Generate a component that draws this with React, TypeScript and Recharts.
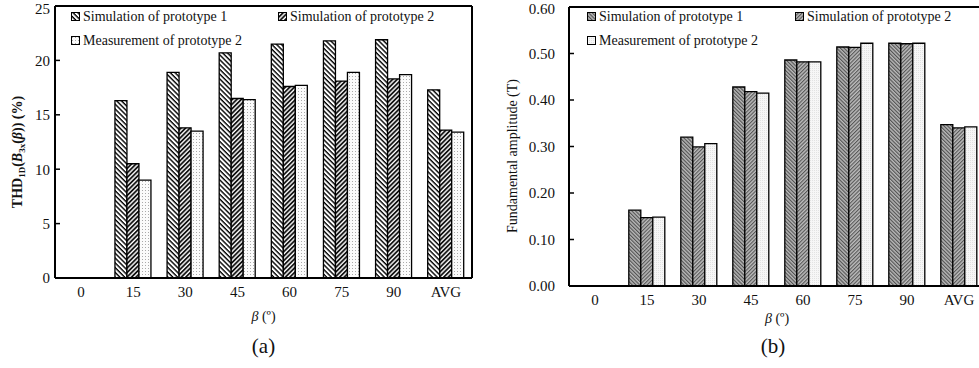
import React from "react";
import { BarChart, Bar, XAxis, YAxis } from "recharts";

// THD and fundamental amplitude vs. rotor angle, two prototypes side by side

const categories = ["0", "15", "30", "45", "60", "75", "90", "AVG"];

const thdSim1 = [0, 16.3, 18.9, 20.7, 21.5, 21.8, 21.9, 17.3];
const thdSim2 = [0, 10.5, 13.8, 16.5, 17.6, 18.1, 18.3, 13.6];
const thdMeas = [0, 9.0, 13.5, 16.4, 17.7, 18.9, 18.7, 13.4];

const ampSim1 = [0, 0.163, 0.32, 0.428, 0.486, 0.514, 0.522, 0.347];
const ampSim2 = [0, 0.147, 0.299, 0.418, 0.482, 0.513, 0.521, 0.34];
const ampMeas = [0, 0.148, 0.306, 0.415, 0.482, 0.522, 0.522, 0.342];

const thdTicks = [0, 5, 10, 15, 20, 25];
const ampTicks = [0, 0.1, 0.2, 0.3, 0.4, 0.5, 0.6];
const boundaryTicks = [1, 2, 3, 4, 5, 6, 7];

const seriesNames = [
  "Simulation of prototype 1",
  "Simulation of prototype 2",
  "Measurement of prototype 2",
];

const FONT = '"Liberation Serif", "Times New Roman", serif';

const thdData = categories.map((cat, i) => ({
  cat,
  sim1: thdSim1[i],
  sim2: thdSim2[i],
  meas: thdMeas[i],
}));
const ampData = categories.map((cat, i) => ({
  cat,
  sim1: ampSim1[i],
  sim2: ampSim2[i],
  meas: ampMeas[i],
}));

function Patterns() {
  return (
    <svg width={0} height={0} style={{ position: "absolute" }}>
      <defs>
        <pattern id="a1" patternUnits="userSpaceOnUse" width={3.4} height={3.4} patternTransform="rotate(-45)">
          <rect width={3.4} height={3.4} fill="#fff" />
          <line x1={1} y1={0} x2={1} y2={3.4} stroke="#000" strokeWidth={1.4} />
        </pattern>
        <pattern id="a2" patternUnits="userSpaceOnUse" width={3.2} height={3.2} patternTransform="rotate(45)">
          <rect width={3.2} height={3.2} fill="#fff" />
          <line x1={1} y1={0} x2={1} y2={3.2} stroke="#000" strokeWidth={1.7} />
        </pattern>
        <pattern id="a3" patternUnits="userSpaceOnUse" width={3} height={3}>
          <rect width={3} height={3} fill="#fbfbfb" />
          <rect x={1} y={1} width={1} height={1} fill="#aaa" />
        </pattern>
        <pattern id="b1" patternUnits="userSpaceOnUse" width={2.6} height={2.6} patternTransform="rotate(-45)">
          <rect width={2.6} height={2.6} fill="#b8b8b8" />
          <line x1={0.6} y1={0} x2={0.6} y2={2.6} stroke="#444" strokeWidth={1} />
        </pattern>
        <pattern id="b2" patternUnits="userSpaceOnUse" width={2.6} height={2.6} patternTransform="rotate(45)">
          <rect width={2.6} height={2.6} fill="#bdbdbd" />
          <line x1={0.6} y1={0} x2={0.6} y2={2.6} stroke="#4a4a4a" strokeWidth={1} />
        </pattern>
        <pattern id="b3" patternUnits="userSpaceOnUse" width={2} height={2}>
          <rect width={2} height={2} fill="#f6f6f6" />
          <rect x={0} y={0} width={1} height={1} fill="#e2e2e2" />
        </pattern>
      </defs>
    </svg>
  );
}

function LegendBlock({ left, col2, fills }: { left: number; col2: number; fills: string[] }) {
  const items = [
    { x: left, y: 8 },
    { x: col2, y: 8 },
    { x: left, y: 32 },
  ];
  return (
    <>
      {items.map((p, i) => (
        <div
          key={i}
          style={{
            position: "absolute",
            left: p.x,
            top: p.y,
            height: 18,
            display: "flex",
            alignItems: "center",
            fontFamily: FONT,
            fontSize: 14,
            color: "#111",
            whiteSpace: "nowrap",
          }}
        >
          <svg width={10} height={10} style={{ marginRight: 2 }}>
            <rect x={0.5} y={0.5} width={8} height={8} fill={fills[i]} stroke="#000" strokeWidth={1} />
          </svg>
          {seriesNames[i]}
        </div>
      ))}
    </>
  );
}

const tickStyle = { fontSize: 15, fontFamily: FONT, fill: "#111" };

function BetaTitle(dy: number) {
  return (props: any) => {
    const vb = props.viewBox;
    return (
      <text x={vb.x + vb.width / 2} y={vb.y + dy} textAnchor="middle" fontFamily={FONT} fontSize={14} fill="#111">
        <tspan fontStyle="italic">β</tspan>
        <tspan> (º)</tspan>
      </text>
    );
  };
}

function ThdYTitle(props: any) {
  const cx = 22;
  const cy = 152;
  return (
    <text
      x={cx}
      y={cy}
      textAnchor="middle"
      transform={`rotate(-90 ${cx} ${cy})`}
      fontFamily={FONT}
      fontSize={14}
      fontWeight="bold"
      fill="#111"
    >
      <tspan>THD</tspan>
      <tspan fontSize={9} dy={3}>1D</tspan>
      <tspan dy={-3}>(</tspan>
      <tspan fontStyle="italic">B</tspan>
      <tspan fontSize={9} dy={3}>3x</tspan>
      <tspan dy={-3}>(</tspan>
      <tspan fontStyle="italic">β</tspan>
      <tspan>)) (%)</tspan>
    </text>
  );
}

function AmpYTitle(props: any) {
  const cx = 27;
  const cy = 156;
  return (
    <text
      x={cx}
      y={cy}
      textAnchor="middle"
      transform={`rotate(-90 ${cx} ${cy})`}
      fontFamily={FONT}
      fontSize={14}
      fill="#111"
    >
      Fundamental amplitude (T)
    </text>
  );
}

const frameLine = { stroke: "#000", strokeWidth: 2 };

export default function App() {
  return (
    <div
      style={{
        position: "absolute",
        left: 0,
        top: 0,
        width: 979,
        height: 368,
        overflow: "hidden",
        background: "#fff",
      }}
    >
      <Patterns />

      {/* (a) THD */}
      <div style={{ position: "absolute", left: 0, top: 0 }}>
        <BarChart
          width={480}
          height={368}
          data={thdData}
          margin={{ top: 5, right: 7, bottom: 59, left: 0 }}
          barCategoryGap="15%"
          barGap={0}
        >
          <XAxis
            xAxisId="edge"
            type="number"
            domain={[0, 8]}
            ticks={boundaryTicks}
            allowDataOverflow
            tick={false}
            axisLine={false}
            tickLine={{ stroke: "#000", strokeWidth: 1.5 }}
            tickSize={-5}
            height={1}
          />
          <XAxis
            dataKey="cat"
            tickLine={false}
            axisLine={frameLine}
            tick={tickStyle}
            height={30}
            interval={0}
            label={{ content: BetaTitle(43) }}
          />
          <XAxis xAxisId="top" orientation="top" dataKey="cat" tick={false} tickLine={false} axisLine={frameLine} height={1} />
          <YAxis
            domain={[0, 25]}
            ticks={thdTicks}
            width={55}
            axisLine={frameLine}
            tickLine={{ stroke: "#000", strokeWidth: 1.5 }}
            tickSize={-5}
            tickMargin={10}
            tick={tickStyle}
            label={{ content: ThdYTitle }}
          />
          <YAxis yAxisId="right" orientation="right" tick={false} tickLine={false} axisLine={frameLine} width={1} />
          <Bar dataKey="sim1" fill="url(#a1)" stroke="#000" strokeWidth={1.3} isAnimationActive={false} />
          <Bar dataKey="sim2" fill="url(#a2)" stroke="#000" strokeWidth={1.3} isAnimationActive={false} />
          <Bar dataKey="meas" fill="url(#a3)" stroke="#000" strokeWidth={1.3} isAnimationActive={false} />
        </BarChart>
      </div>
      <LegendBlock left={71} col2={278} fills={["url(#a1)", "url(#a2)", "url(#a3)"]} />
      <div
        style={{
          position: "absolute",
          left: 55,
          width: 417,
          top: 334,
          textAlign: "center",
          fontFamily: FONT,
          fontSize: 21,
          color: "#111",
        }}
      >
        (a)
      </div>

      {/* (b) fundamental amplitude */}
      <div style={{ position: "absolute", left: 490, top: 0 }}>
        <BarChart
          width={503}
          height={368}
          data={ampData}
          margin={{ top: 6, right: 7, bottom: 51, left: 0 }}
          barCategoryGap="15%"
          barGap={0}
        >
          <XAxis
            xAxisId="edge"
            type="number"
            domain={[0, 8]}
            ticks={boundaryTicks}
            allowDataOverflow
            tick={false}
            axisLine={false}
            tickLine={{ stroke: "#000", strokeWidth: 1.5 }}
            tickSize={-5}
            height={1}
          />
          <XAxis
            dataKey="cat"
            tickLine={false}
            axisLine={frameLine}
            tick={tickStyle}
            height={30}
            interval={0}
            label={{ content: BetaTitle(37) }}
          />
          <XAxis xAxisId="top" orientation="top" dataKey="cat" tick={false} tickLine={false} axisLine={frameLine} height={1} />
          <YAxis
            domain={[0, 0.6]}
            ticks={ampTicks}
            width={79}
            axisLine={frameLine}
            tickLine={{ stroke: "#000", strokeWidth: 1.5 }}
            tickSize={-5}
            tickMargin={19}
            tick={tickStyle}
            tickFormatter={(v: number) => v.toFixed(2)}
            label={{ content: AmpYTitle }}
          />
          <YAxis yAxisId="right" orientation="right" tick={false} tickLine={false} axisLine={frameLine} width={1} />
          <Bar dataKey="sim1" fill="url(#b1)" stroke="#000" strokeWidth={1.3} isAnimationActive={false} />
          <Bar dataKey="sim2" fill="url(#b2)" stroke="#000" strokeWidth={1.3} isAnimationActive={false} />
          <Bar dataKey="meas" fill="url(#b3)" stroke="#000" strokeWidth={1.3} isAnimationActive={false} />
        </BarChart>
      </div>
      <LegendBlock left={587} col2={795} fills={["url(#b1)", "url(#b2)", "url(#b3)"]} />
      <div
        style={{
          position: "absolute",
          left: 569,
          width: 408,
          top: 334,
          textAlign: "center",
          fontFamily: FONT,
          fontSize: 21,
          color: "#111",
        }}
      >
        (b)
      </div>
    </div>
  );
}
